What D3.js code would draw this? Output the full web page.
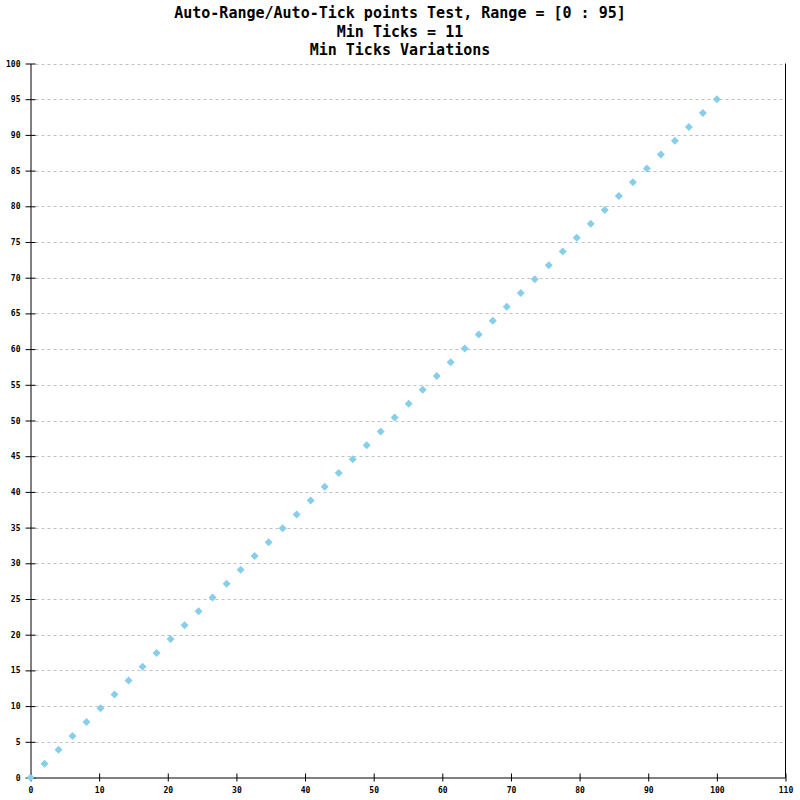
<!DOCTYPE html>
<html>
<head>
<meta charset="utf-8">
<script src="https://cdn.jsdelivr.net/npm/d3@7"></script>
<style>
html,body{margin:0;padding:0;background:#fff;}
svg{display:block;}
</style>
</head>
<body>
<svg id="chart" width="800" height="800"></svg>
<script>
const titleLines = ["Auto-Range/Auto-Tick points Test, Range = [0 : 95]", "Min Ticks = 11", "Min Ticks Variations"];
const xValues = [0, 2.04, 4.08, 6.12, 8.16, 10.20, 12.24, 14.29, 16.33, 18.37, 20.41, 22.45, 24.49, 26.53, 28.57, 30.61, 32.65, 34.69, 36.73, 38.78, 40.82, 42.86, 44.90, 46.94, 48.98, 51.02, 53.06, 55.10, 57.14, 59.18, 61.22, 63.27, 65.31, 67.35, 69.39, 71.43, 73.47, 75.51, 77.55, 79.59, 81.63, 83.67, 85.71, 87.76, 89.80, 91.84, 93.88, 95.92, 97.96, 100];
const yValues = [0, 1.94, 3.88, 5.82, 7.76, 9.69, 11.63, 13.57, 15.51, 17.45, 19.39, 21.33, 23.27, 25.20, 27.14, 29.08, 31.02, 32.96, 34.90, 36.84, 38.78, 40.71, 42.65, 44.59, 46.53, 48.47, 50.41, 52.35, 54.29, 56.22, 58.16, 60.10, 62.04, 63.98, 65.92, 67.86, 69.80, 71.73, 73.67, 75.61, 77.55, 79.49, 81.43, 83.37, 85.31, 87.24, 89.18, 91.12, 93.06, 95];
const xTicks = [0, 10, 20, 30, 40, 50, 60, 70, 80, 90, 100, 110];
const yTicks = [0, 5, 10, 15, 20, 25, 30, 35, 40, 45, 50, 55, 60, 65, 70, 75, 80, 85, 90, 95, 100];

(function(){
const svg = d3.select("#chart");
const pLeft = 30.5, pRight = 785.5, pTop = 63.5, pBottom = 777.5;
const x = d3.scaleLinear().domain([0, 110]).range([pLeft, pRight]);
const y = d3.scaleLinear().domain([0, 100]).range([pBottom, pTop]);
const mono = "'DejaVu Sans Mono', monospace";

// title
svg.append("g").selectAll("text").data(titleLines).join("text")
  .attr("x", 400).attr("y", (d, i) => 18 + i * 18.5)
  .attr("text-anchor", "middle")
  .attr("font-family", mono).attr("font-size", "15px").attr("font-weight", "bold")
  .attr("fill", "#000").text(d => d);

// grid
svg.append("g").selectAll("line").data(yTicks.filter(d => d > 0)).join("line")
  .attr("x1", pLeft + 5).attr("x2", pRight)
  .attr("y1", d => Math.round(y(d)) + 0.5).attr("y2", d => Math.round(y(d)) + 0.5)
  .attr("stroke", "#c0c0c0").attr("stroke-width", 1).attr("stroke-dasharray", "3,3");

// right frame line
svg.append("line").attr("x1", pRight).attr("x2", pRight).attr("y1", pTop).attr("y2", pBottom)
  .attr("stroke", "#000").attr("stroke-width", 1);

// axes
const yAxis = d3.axisLeft(y).tickValues(yTicks).tickSize(5).tickPadding(5).tickSizeOuter(0).tickFormat(d3.format("d"));
const gy = svg.append("g").attr("transform", `translate(${pLeft},0)`).call(yAxis);
gy.selectAll(".tick line").attr("x2", 5).attr("x1", -5);
gy.selectAll(".tick text").attr("x", -10);

const xAxis = d3.axisBottom(x).tickValues(xTicks).tickSize(4).tickPadding(6).tickSizeOuter(0).tickFormat(d3.format("d"));
const gx = svg.append("g").attr("transform", `translate(0,${pBottom})`).call(xAxis);
gx.selectAll(".tick line").attr("y1", -4).attr("y2", 4);

[gx, gy].forEach(g => {
  g.select(".domain").attr("stroke", "#000");
  g.selectAll(".tick line").attr("stroke", "#000");
  g.selectAll(".tick text").attr("font-family", mono).attr("font-size", "8px").attr("font-weight", "bold").attr("fill", "#000");
});

// points
const pts = xValues.map((v, i) => ({x: v, y: yValues[i]}));
const sym = d3.symbol().type(d3.symbolSquare).size(32);
svg.append("g").selectAll("path").data(pts).join("path")
  .attr("d", sym)
  .attr("transform", d => `translate(${x(d.x)},${y(d.y)}) rotate(45)`)
  .attr("fill", "#87ceeb");
})();
</script>
</body>
</html>
